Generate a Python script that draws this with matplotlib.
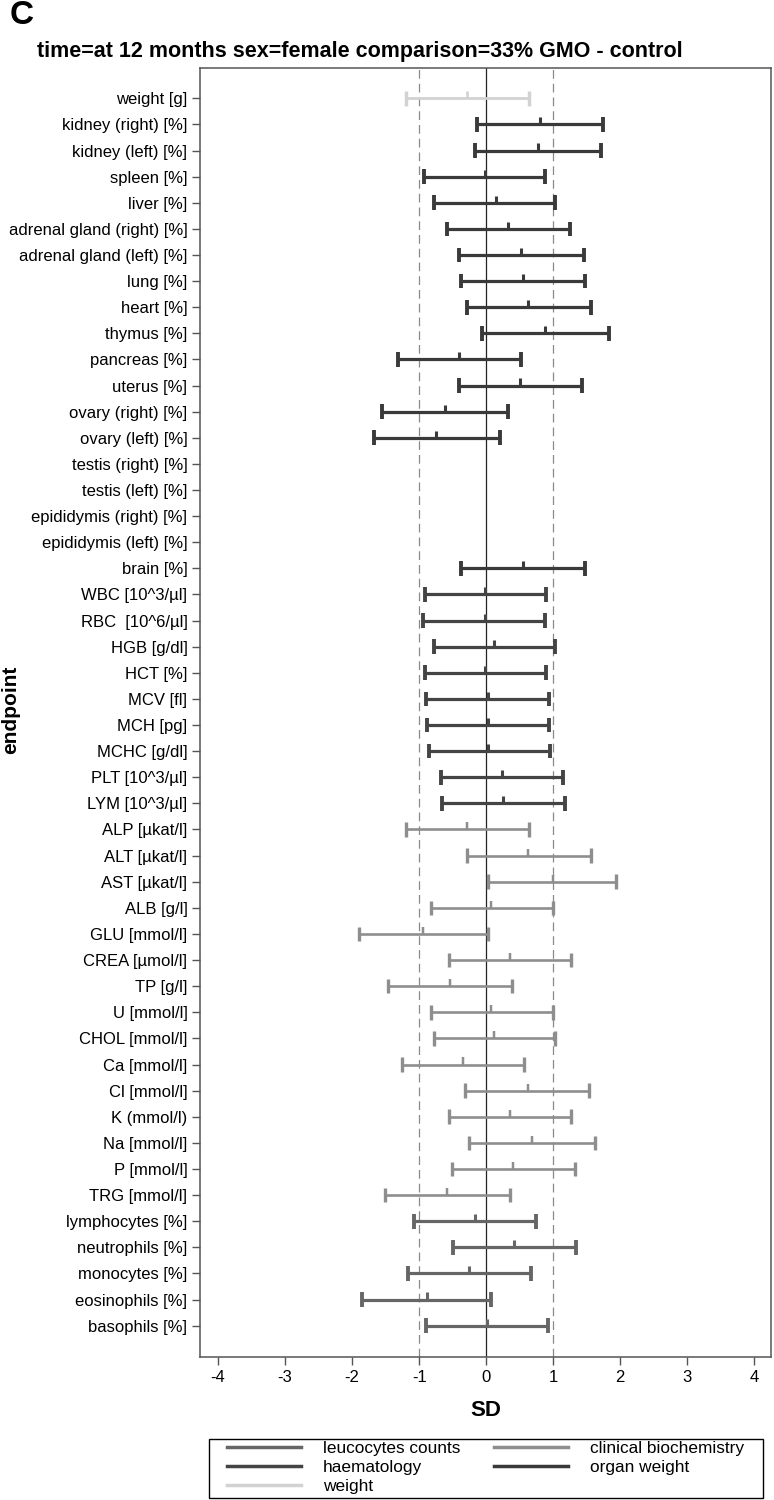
import numpy as np
import matplotlib
matplotlib.use("Agg")
import matplotlib.pyplot as plt
from matplotlib.lines import Line2D
from matplotlib.patches import Rectangle

plt.rcParams['font.family'] = ['Liberation Sans', 'DejaVu Sans']

endpoints = ["weight [g]", "kidney (right) [%]", "kidney (left) [%]", "spleen [%]", "liver [%]",
             "adrenal gland (right) [%]", "adrenal gland (left) [%]", "lung [%]", "heart [%]",
             "thymus [%]", "pancreas [%]", "uterus [%]", "ovary (right) [%]", "ovary (left) [%]",
             "testis (right) [%]", "testis (left) [%]", "epididymis (right) [%]",
             "epididymis (left) [%]", "brain [%]",
             "WBC [10^3/µl]", "RBC  [10^6/µl]", "HGB [g/dl]", "HCT [%]", "MCV [fl]", "MCH [pg]",
             "MCHC [g/dl]", "PLT [10^3/µl]", "LYM [10^3/µl]",
             "ALP [µkat/l]", "ALT [µkat/l]", "AST [µkat/l]", "ALB [g/l]", "GLU [mmol/l]",
             "CREA [µmol/l]", "TP [g/l]", "U [mmol/l]", "CHOL [mmol/l]", "Ca [mmol/l]",
             "Cl [mmol/l]", "K (mmol/l)", "Na [mmol/l]", "P [mmol/l]", "TRG [mmol/l]",
             "lymphocytes [%]", "neutrophils [%]", "monocytes [%]", "eosinophils [%]",
             "basophils [%]"]

groups = (["weight"] + ["organ weight"] * 18 + ["haematology"] * 9
          + ["clinical biochemistry"] * 15 + ["leucocytes counts"] * 5)

nan = np.nan
lower = [-1.20, -0.14, -0.16, -0.93, -0.78, -0.58, -0.40, -0.38, -0.28, -0.06, -1.31, -0.41,
         -1.55, -1.68, nan, nan, nan, nan, -0.38,
         -0.92, -0.94, -0.78, -0.92, -0.90, -0.88, -0.86, -0.68, -0.66,
         -1.20, -0.28, 0.02, -0.83, -1.90, -0.56, -1.46, -0.83, -0.78, -1.26, -0.32, -0.56,
         -0.25, -0.51, -1.51,
         -1.07, -0.50, -1.16, -1.85, -0.90]
mid = [-0.28, 0.80, 0.77, -0.02, 0.14, 0.33, 0.52, 0.55, 0.63, 0.88, -0.40, 0.50,
       -0.61, -0.75, nan, nan, nan, nan, 0.55,
       -0.02, -0.02, 0.11, -0.02, 0.02, 0.02, 0.03, 0.23, 0.25,
       -0.28, 0.63, 0.99, 0.07, -0.95, 0.35, -0.54, 0.07, 0.11, -0.35, 0.62, 0.35,
       0.69, 0.40, -0.58,
       -0.16, 0.42, -0.25, -0.88, 0.01]
upper = [0.64, 1.75, 1.72, 0.88, 1.03, 1.25, 1.46, 1.47, 1.57, 1.84, 0.52, 1.43,
         0.32, 0.20, nan, nan, nan, nan, 1.47,
         0.89, 0.88, 1.03, 0.89, 0.94, 0.94, 0.95, 1.14, 1.17,
         0.64, 1.57, 1.93, 0.99, 0.02, 1.27, 0.39, 0.99, 1.03, 0.57, 1.54, 1.27,
         1.62, 1.32, 0.35,
         0.75, 1.34, 0.67, 0.07, 0.92]

group_colors = {"leucocytes counts": "#666666", "haematology": "#444444",
                "weight": "#d2d2d2", "clinical biochemistry": "#8e8e8e",
                "organ weight": "#3a3a3a"}
group_widths = {"leucocytes counts": 2.3, "haematology": 2.3, "weight": 2.0,
                "clinical biochemistry": 1.9, "organ weight": 2.3}
legend_order = ["leucocytes counts", "haematology", "weight",
                "clinical biochemistry", "organ weight"]

fig = plt.figure(figsize=(7.74, 15.0), dpi=100)
ax = fig.add_axes([200 / 774, 1 - 1357 / 1500, 571 / 774, (1357 - 68) / 1500])

ax.axvline(0, color="#222222", lw=0.9, zorder=1)
for v in (-1, 1):
    ax.axvline(v, color="#8a8a8a", lw=0.9, ls=(0, (7, 4)), zorder=1)

ypos = np.arange(len(endpoints))
for y, g, lo, m, hi in zip(ypos, groups, lower, mid, upper):
    if np.isnan(m):
        continue
    c = group_colors[g]
    w = group_widths[g]
    ax.hlines(y, lo, hi, color=c, lw=w, zorder=3)
    ax.vlines([lo, hi], y - 0.28, y + 0.28, color=c, lw=w + 0.5, zorder=3)
    ax.vlines(m, y - 0.27, y, color=c, lw=w - 0.1, zorder=3)

ax.set_xlim(-4.27, 4.25)
ax.set_ylim(len(endpoints) - 1 + 1.2, -1.16)
ax.set_xticks(np.arange(-4, 5))
ax.set_xticklabels([str(t) for t in range(-4, 5)])
ax.set_yticks(ypos)
ax.set_yticklabels(endpoints)
ax.tick_params(axis="both", labelsize=12, length=6, width=1, color="#555555", pad=3)
for s in ax.spines.values():
    s.set_color("#555555")
    s.set_linewidth(1.1)

fig.text(10 / 774, 1 - 16 / 1500, "C", fontsize=24, fontweight="bold", va="center", ha="left")
fig.text(37 / 774, 1 - 52 / 1500, "time=at 12 months sex=female comparison=33% GMO - control",
         fontsize=15.5, fontweight="bold", va="center", ha="left")
fig.text(11 / 774, 1 - 710 / 1500, "endpoint", fontsize=15, fontweight="bold",
         rotation=90, va="center", ha="center")
fig.text(486 / 774, 1 - 1410 / 1500, "SD", fontsize=16, fontweight="bold",
         va="center", ha="center")

# legend box drawn separately so the entries can sit where the original has them
fig.patches.append(Rectangle((209 / 774, 1 - 1498 / 1500), 554 / 774, 59 / 1500,
                             transform=fig.transFigure, fill=False,
                             edgecolor="black", lw=1.0))
handles = [Line2D([], [], color=group_colors[g], lw=2.5) for g in legend_order]
fig.legend(handles, legend_order, ncol=2, loc="upper left",
           bbox_to_anchor=(227 / 774, 1 - 1441 / 1500),
           fontsize=12.4, handlelength=4.3, handletextpad=1.25, columnspacing=2.0,
           labelspacing=0.22, borderpad=0.0, borderaxespad=0, frameon=False)

fig.savefig("out.png", dpi=100, facecolor="white")
